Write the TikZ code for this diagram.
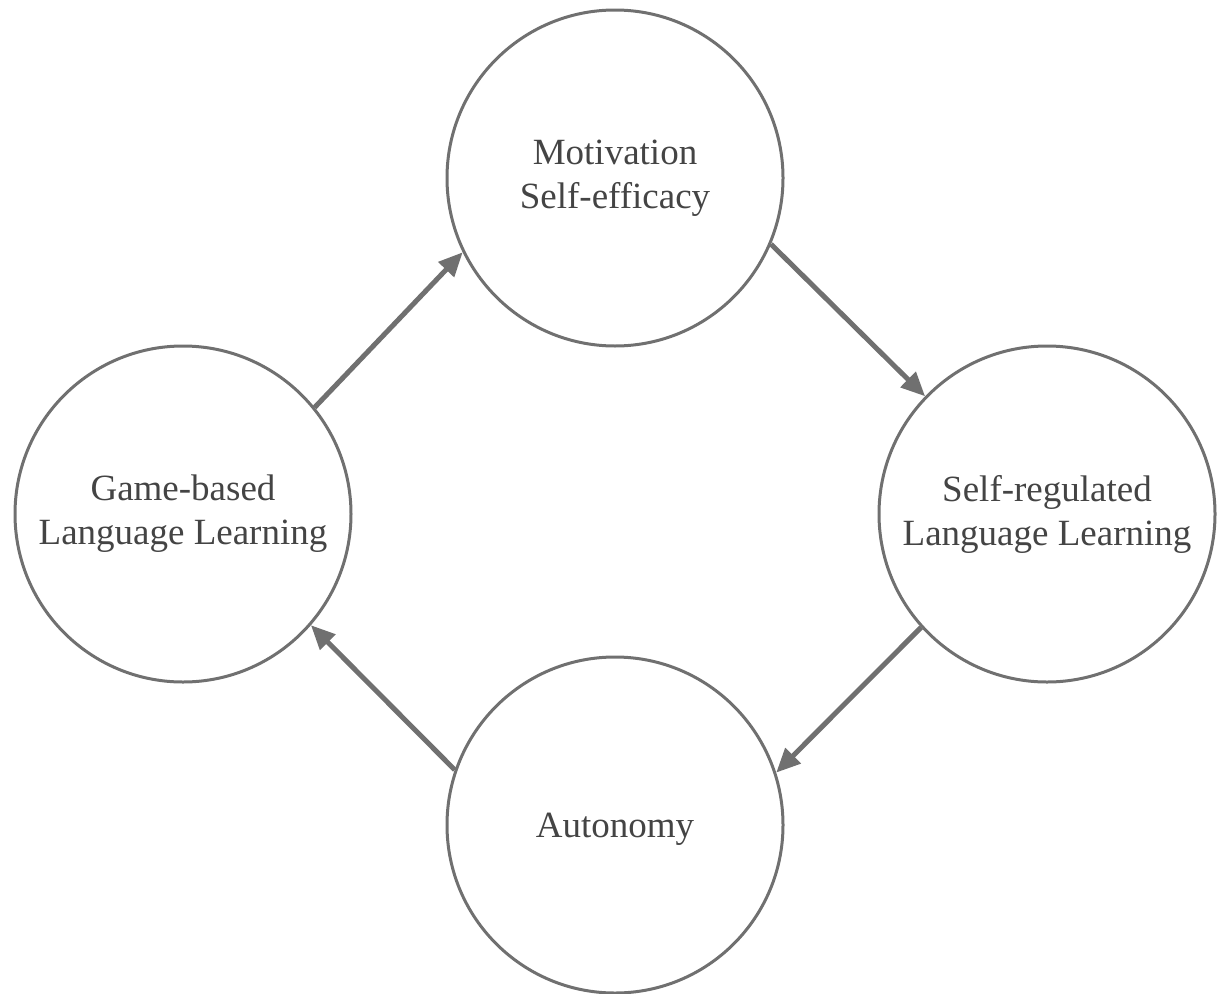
\documentclass[tikz,border=0pt]{standalone}
\usepackage{fontspec}
\setmainfont{Liberation Serif}
\usetikzlibrary{arrows.meta}
\definecolor{ringgray}{HTML}{707070}
\definecolor{txtgray}{HTML}{444444}
\begin{document}
\begin{tikzpicture}[x=1pt,y=-1pt,
  ring/.style={circle,draw=ringgray,line width=3pt,minimum size=336pt,inner sep=0pt,
    text=txtgray,align=center,font=\fontsize{37}{44}\selectfont},
  flow/.style={draw=ringgray,line width=5pt,-{Triangle[length=24pt,width=21pt]}}]
\useasboundingbox (0,0) rectangle (1222,993);
\node[ring] (top) at (615,178) {Motivation\\Self-efficacy};
\node[ring] (left) at (183,514) {Game-based\\Language Learning};
\node[ring] (right) at (1047,514) {Self-regulated\\Language Learning};
\node[ring] (bot) at (615,825) {\raisebox{-4pt}[\height][\depth]{Autonomy}};
\draw[flow] (top.-23.4) -- (right.136.4);
\draw[flow] (right.222.4) -- (bot.18);
\draw[flow] (bot.161) -- (left.-41.2);
\draw[flow] (left.39.5) -- (top.206.9);
\end{tikzpicture}
\end{document}
